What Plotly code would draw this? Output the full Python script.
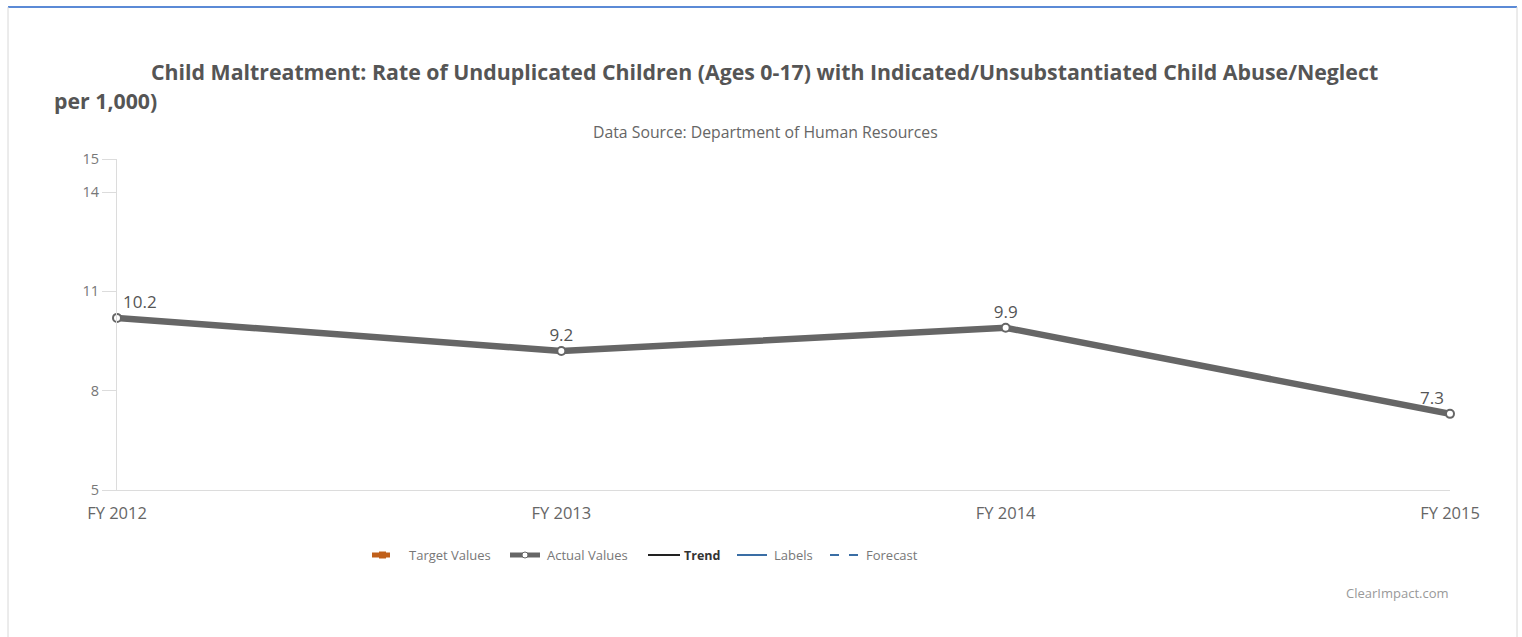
import plotly.graph_objects as go

categories = ["FY 2012", "FY 2013", "FY 2014", "FY 2015"]
actual_values = [10.2, 9.2, 9.9, 7.3]
y_ticks = [5, 8, 11, 14, 15]
legend_labels = ["Target Values", "Actual Values", "Trend", "Labels", "Forecast"]

W, H = 1522, 637
L, R, T, B = 117, 72, 159, 147
PW, PH = W - L - R, H - T - B


def px(x):
    return (x - L) / PW


def py(y):
    return (H - B - y) / PH


FONT = "Open Sans"
fig = go.Figure()
fig.add_trace(go.Scatter(
    x=categories, y=actual_values, mode="lines+markers+text",
    line=dict(color="#666666", width=6.5),
    marker=dict(size=8, color="white", line=dict(color="#666666", width=2)),
    text=[f"{v:.1f}" for v in actual_values],
    textposition=["top right", "top center", "top center", "top left"],
    textfont=dict(family=FONT, size=17, color="#555555"),
    cliponaxis=False, showlegend=False, hoverinfo="x+y",
))

fig.update_layout(
    width=W, height=H, margin=dict(l=L, r=R, t=T, b=B),
    paper_bgcolor="white", plot_bgcolor="white",
    font=dict(family=FONT, color="#666666"),
    xaxis=dict(type="category", range=[0, 3], showgrid=False, zeroline=False,
               showline=True, linecolor="#dcdcdc", linewidth=1,
               ticks="outside", ticklen=8, tickcolor="rgba(0,0,0,0)",
               tickfont=dict(size=16.5, color="#666666")),
    yaxis=dict(range=[5, 15], tickvals=y_ticks, showgrid=False, zeroline=False,
               showline=True, linecolor="#dcdcdc", linewidth=1,
               ticks="outside", ticklen=14, tickcolor="#dcdcdc",
               tickfont=dict(size=14.5, color="#777777")),
)

anns = [
    dict(text="<b>Child Maltreatment: Rate of Unduplicated Children (Ages 0-17) with Indicated/Unsubstantiated Child Abuse/Neglect</b>",
         x=px(764), y=py(71), xanchor="center", yanchor="middle",
         font=dict(size=21.3, color="#555555")),
    dict(text="<b>per 1,000)</b>", x=px(52), y=py(100), xanchor="left", yanchor="middle",
         font=dict(size=21.3, color="#555555")),
    dict(text="Data Source: Department of Human Resources", x=px(765), y=py(132),
         xanchor="center", yanchor="middle", font=dict(size=15.8, color="#666666")),
    dict(text="ClearImpact.com", x=px(1451), y=py(593), xanchor="right", yanchor="middle",
         font=dict(size=13, color="#999999")),
]

shapes = [
    dict(type="line", x0=px(8), x1=px(1517), y0=py(7), y1=py(7),
         line=dict(color="#5b8ad6", width=2)),
    dict(type="line", x0=px(8), x1=px(8), y0=py(7), y1=py(637),
         line=dict(color="#d8d8d8", width=1)),
    dict(type="line", x0=px(1517), x1=px(1517), y0=py(7), y1=py(637),
         line=dict(color="#d8d8d8", width=1)),
]

# custom legend
ly = 555
legend_items = [
    (legend_labels[0], 372, 390, 407, dict(color="#c0601a", width=5, dash="solid"), "marker_o"),
    (legend_labels[1], 510, 540, 545, dict(color="#666666", width=5, dash="solid"), "marker_w"),
    (legend_labels[2], 648, 680, 682, dict(color="#222222", width=2, dash="solid"), None),
    (legend_labels[3], 737, 767, 772, dict(color="#3a6ea5", width=2, dash="solid"), None),
    (legend_labels[4], 830, 858, 864, dict(color="#3a6ea5", width=2, dash="dash"), None),
]
for label, x0, x1, tx, ln, mk in legend_items:
    if ln["dash"] == "dash":
        for a, b in [(x0, x0 + 9), (x1 - 9, x1)]:
            shapes.append(dict(type="line", x0=px(a), x1=px(b), y0=py(ly), y1=py(ly),
                               line=dict(color=ln["color"], width=ln["width"])))
    else:
        shapes.append(dict(type="line", x0=px(x0), x1=px(x1), y0=py(ly), y1=py(ly),
                           line=dict(color=ln["color"], width=ln["width"])))
    if mk == "marker_o":
        cx = (x0 + x1) / 2
        shapes.append(dict(type="rect", x0=px(cx - 2), x1=px(cx + 5), y0=py(ly - 3.5), y1=py(ly + 3.5),
                           fillcolor="#c0601a", line=dict(width=0)))
    if mk == "marker_w":
        cx = (x0 + x1) / 2
        shapes.append(dict(type="circle", x0=px(cx - 3), x1=px(cx + 3), y0=py(ly - 3), y1=py(ly + 3),
                           fillcolor="white", line=dict(color="#666666", width=1)))
    bold = label == "Trend"
    anns.append(dict(text=f"<b>{label}</b>" if bold else label, x=px(tx), y=py(ly),
                     xanchor="left", yanchor="middle",
                     font=dict(size=13 if not bold else 12.5, color="#333333" if bold else "#777777")))

for a in anns:
    a.update(xref="paper", yref="paper", showarrow=False)
for s in shapes:
    s.update(xref="paper", yref="paper")
fig.update_layout(annotations=anns, shapes=shapes)

fig.write_html("out.html")
